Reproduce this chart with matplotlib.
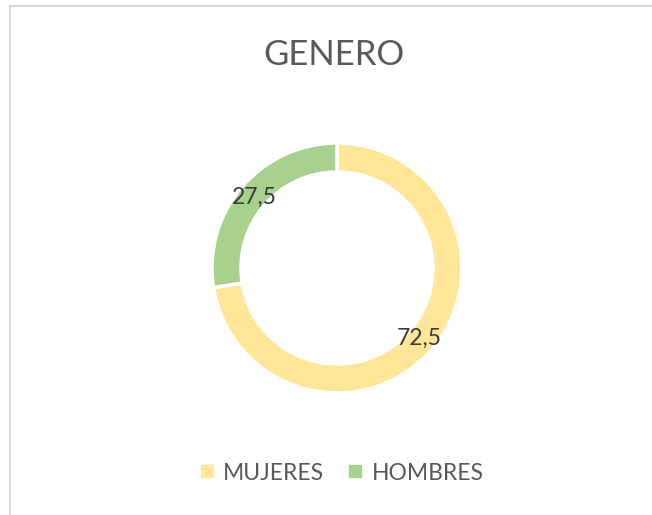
import matplotlib
matplotlib.use("Agg")
import matplotlib.pyplot as plt
import numpy as np
from matplotlib.lines import Line2D

categories = ["MUJERES", "HOMBRES"]
values = [72.5, 27.5]
colors = ["#FFE699", "#A9D18E"]
title = "GENERO"

W, H = 652, 515
plt.rcParams["font.family"] = ["Lato", "DejaVu Sans"]
fig = plt.figure(figsize=(W / 100, H / 100), dpi=100)
fig.patch.set_facecolor("white")
ax = fig.add_axes([0, 0, 1, 1])

cx, cy, r = 337, H - 268, 125
ring = 29
wedges, _ = ax.pie(values, colors=colors, startangle=90, counterclock=False,
                   center=(cx, cy), radius=r,
                   wedgeprops=dict(width=ring, edgecolor="white", linewidth=2.5),
                   frame=True)
ax.set_xlim(0, W)
ax.set_ylim(0, H)
ax.set_aspect("equal")
ax.axis("off")

# chart frame (top and left edges visible)
ax.plot([9, W], [H - 5.5, H - 5.5], color="#d9d9d9", lw=1.5, solid_capstyle="butt")
ax.plot([9.5, 9.5], [0, H - 5.5], color="#d9d9d9", lw=1.5, solid_capstyle="butt")

# value labels at the middle of each ring segment
for w, v in zip(wedges, values):
    mid = np.deg2rad((w.theta1 + w.theta2) / 2)
    rr = r - ring / 2 - 2
    ax.text(cx + rr * np.cos(mid), cy + rr * np.sin(mid),
            f"{v:.1f}".replace(".", ","), ha="center", va="center",
            fontsize=16.5, color="#3a3a3a")

ax.text(W / 2 + 8, H - 55, title, ha="center", va="center",
        fontsize=25, color="#595959")

handles = [Line2D([], [], marker="s", ls="", markersize=8,
                  markerfacecolor=c, markeredgecolor=c) for c in colors]
ax.legend(handles, categories, loc="center", bbox_to_anchor=(342.5 / W, 1 - 473 / H),
          ncol=2, frameon=False, fontsize=16.5, handletextpad=0.45,
          columnspacing=1.1, labelcolor="#595959", handlelength=0.5)

fig.savefig("out.png", dpi=100, facecolor="white")
